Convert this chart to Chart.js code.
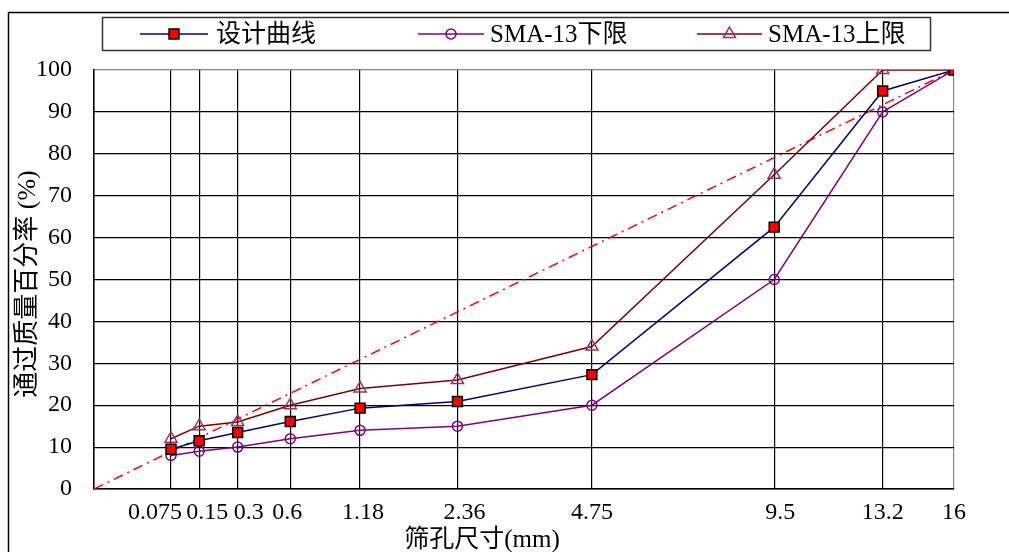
<!DOCTYPE html>
<html>
<head>
<meta charset="utf-8">
<script src="https://cdn.jsdelivr.net/npm/chart.js@4.4.1/dist/chart.umd.min.js"></script>
<style>
  html, body { margin: 0; padding: 0; background: #fff; }
</style>
</head>
<body>
<canvas id="chart" width="1009" height="552"></canvas>
<script>
// sieve sizes (mm) and passing percentages
const sieves = [0.075, 0.15, 0.3, 0.6, 1.18, 2.36, 4.75, 9.5, 13.2, 16];
const sieveLabels = ['0.075', '0.15', '0.3', '0.6', '1.18', '2.36', '4.75', '9.5', '13.2', '16'];
const design = [9.5, 11.5, 13.5, 16.1, 19.3, 20.9, 27.3, 62.5, 95.0, 100];
const lowerLimit = [8, 9, 10, 12, 14, 15, 20, 50, 90, 100];
const upperLimit = [12, 15, 16, 20, 24, 26, 34, 75, 100, 100];
const maxDensity = [0, 100]; // from 0 to 16 mm
const seriesNames = ['设计曲线', 'SMA-13下限', 'SMA-13上限'];
const yTicks = [0, 10, 20, 30, 40, 50, 60, 70, 80, 90, 100];

const POW = 0.45;
const px = d => Math.pow(d, POW);
const xMax = px(16);

const FONT = '"Liberation Serif", "Noto Sans CJK SC", serif';
// small nudges so the crowded fine-sieve labels don't collide
const labelNudge = [-16, 8, 11, -3, 3, 7, 0, 6, 0, 0];

const toPts = arr => arr.map((v, i) => ({ x: px(sieves[i]), y: v }));

const extras = {
  id: 'extras',
  beforeDraw(chart) {
    const { ctx } = chart;
    ctx.save();
    ctx.fillStyle = '#fff';
    ctx.fillRect(0, 0, chart.width, chart.height);
    // outer frame
    ctx.strokeStyle = '#000';
    ctx.lineWidth = 1.5;
    ctx.beginPath();
    ctx.moveTo(8.5, 552);
    ctx.lineTo(8.5, 12.5);
    ctx.lineTo(1009, 12.5);
    ctx.stroke();
    ctx.restore();
  },
  afterDraw(chart) {
    const { ctx, scales: { x } } = chart;
    ctx.save();
    ctx.fillStyle = '#000';
    // x tick labels
    ctx.font = '24px ' + FONT;
    ctx.textAlign = 'center';
    ctx.textBaseline = 'middle';
    sieves.forEach((s, i) => {
      ctx.fillText(sieveLabels[i], x.getPixelForValue(px(s)) + labelNudge[i], 513);
    });
    // axis titles
    ctx.font = '25px ' + FONT;
    ctx.fillText('筛孔尺寸(mm)', 482, 540);
    ctx.save();
    ctx.translate(28, 284);
    ctx.rotate(-Math.PI / 2);
    ctx.font = '26px ' + FONT;
    ctx.fillText('通过质量百分率 (%)', 0, 0);
    ctx.restore();

    // legend box
    ctx.strokeStyle = '#333';
    ctx.lineWidth = 1.5;
    ctx.strokeRect(102.5, 17.5, 828, 33);
    const items = [[140, 208, 216], [418, 484, 490], [697, 762, 768]];
    const ly = 34;
    chart.data.datasets.slice(0, 3).forEach((ds, i) => {
      const [a, b, t] = items[i];
      ctx.strokeStyle = ds.borderColor;
      ctx.lineWidth = 1.5;
      ctx.beginPath();
      ctx.moveTo(a, ly);
      ctx.lineTo(b, ly);
      ctx.stroke();
      ctx.fillStyle = ds.pointBackgroundColor;
      ctx.strokeStyle = ds.pointBorderColor;
      ctx.lineWidth = ds.pointBorderWidth;
      Chart.helpers.drawPoint(ctx, {
        pointStyle: ds.pointStyle,
        radius: ds.pointRadius,
        borderWidth: ds.pointBorderWidth
      }, (a + b) / 2, ly);
      ctx.fillStyle = '#000';
      ctx.font = '25px ' + FONT;
      ctx.textAlign = 'left';
      ctx.fillText(seriesNames[i], t, ly + 1);
    });
    ctx.restore();
  }
};

new Chart(document.getElementById('chart'), {
  type: 'scatter',
  data: {
    datasets: [
      {
        label: seriesNames[0],
        data: toPts(design),
        showLine: true,
        borderColor: '#000080',
        borderWidth: 1.5,
        pointStyle: 'rect',
        pointRadius: 7,
        pointBackgroundColor: '#ff0000',
        pointBorderColor: '#000',
        pointBorderWidth: 1.5
      },
      {
        label: seriesNames[1],
        data: toPts(lowerLimit),
        showLine: true,
        borderColor: '#800080',
        borderWidth: 1.5,
        pointStyle: 'circle',
        pointRadius: 5,
        pointBackgroundColor: 'rgba(255,255,255,0)',
        pointBorderColor: '#800080',
        pointBorderWidth: 1.5
      },
      {
        label: seriesNames[2],
        data: toPts(upperLimit),
        showLine: true,
        borderColor: '#800000',
        borderWidth: 1.5,
        pointStyle: 'triangle',
        pointRadius: 7,
        pointBackgroundColor: 'rgba(255,255,255,0)',
        pointBorderColor: '#993366',
        pointBorderWidth: 1.5
      },
      {
        label: 'max density',
        data: [{ x: 0, y: maxDensity[0] }, { x: xMax, y: maxDensity[1] }],
        showLine: true,
        borderColor: '#ff0000',
        borderWidth: 1.5,
        borderDash: [10, 5, 2, 5],
        pointRadius: 0
      }
    ]
  },
  options: {
    responsive: false,
    animation: false,
    devicePixelRatio: 1,
    layout: { padding: { left: 37, top: 70, right: 55, bottom: 63 } },
    plugins: { legend: { display: false }, tooltip: { enabled: false } },
    scales: {
      x: {
        type: 'linear',
        min: 0,
        max: xMax,
        afterBuildTicks: s => { s.ticks = [{ value: 0 }].concat(sieves.map(v => ({ value: px(v) }))); },
        ticks: { display: false },
        grid: {
          drawTicks: false,
          color: c => (Math.abs(c.tick.value - xMax) < 1e-6 ? '#888' : '#000'),
          lineWidth: 1.2
        },
        border: { color: '#000', width: 1.5 }
      },
      y: {
        min: 0,
        max: 100,
        afterBuildTicks: s => { s.ticks = yTicks.map(v => ({ value: v })); },
        afterFit: s => { s.width = 57; },
        ticks: { font: { family: FONT, size: 24 }, color: '#000', padding: 22 },
        grid: {
          drawTicks: false,
          color: c => (c.tick.value === 100 ? '#888' : '#000'),
          lineWidth: 1.2
        },
        border: { color: '#000', width: 1.5 }
      }
    }
  },
  plugins: [extras]
});
</script>
</body>
</html>
